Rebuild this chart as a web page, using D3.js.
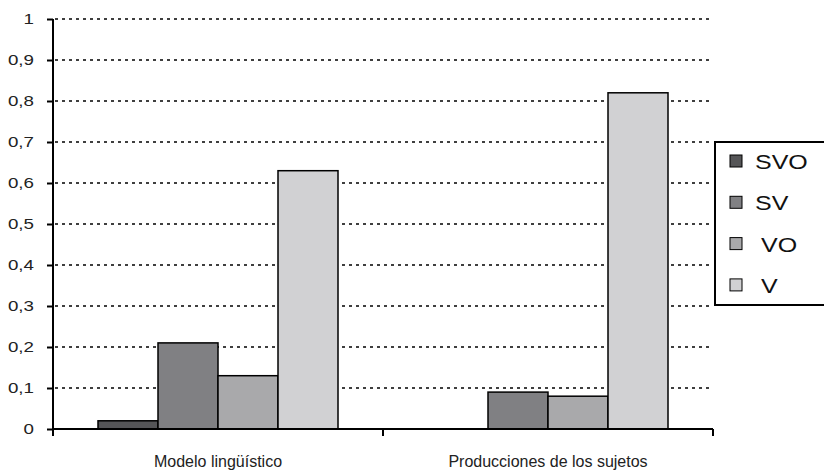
<!DOCTYPE html>
<html>
<head>
<meta charset="utf-8">
<script src="https://d3js.org/d3.v7.min.js"></script>
<style>
  body { margin: 0; background: #fff; }
  svg { font-family: "Liberation Sans", Arial, sans-serif; }
  .grid line { stroke: #000; stroke-width: 1.6px; stroke-dasharray: 3 4; }
  .bar { stroke: #000; stroke-width: 1.5px; }
</style>
</head>
<body>
<script>
// data
const categories = ["Modelo lingüístico", "Producciones de los sujetos"];
const series = ["SVO", "SV", "VO", "V"];
const seriesColors = ["#555557", "#808083", "#a9a9ab", "#d1d1d3"];
const svoValues = [0.02, 0];
const svValues = [0.21, 0.09];
const voValues = [0.13, 0.08];
const vValues = [0.63, 0.82];
const yTicks = [0, 0.1, 0.2, 0.3, 0.4, 0.5, 0.6, 0.7, 0.8, 0.9, 1];

const width = 824, height = 470;
const plotLeft = 53, plotRight = 713, plotTop = 19, plotBottom = 429;

const svg = d3.select("body").append("svg")
  .attr("width", width).attr("height", height);

const seriesValues = [svoValues, svValues, voValues, vValues];
const rows = [];
categories.forEach(function (c, ci) {
  series.forEach(function (s, si) {
    rows.push({ cat: c, ser: s, value: seriesValues[si][ci], color: seriesColors[si] });
  });
});

// scales
const x = d3.scaleBand().domain(categories).range([plotLeft, plotRight]);
const xs = d3.scaleBand().domain(series).range([45, x.bandwidth() - 45]);
const y = d3.scaleLinear().domain([0, 1]).range([plotBottom, plotTop]);

// gridlines
svg.append("g").attr("class", "grid")
  .selectAll("line")
  .data(yTicks.filter(function (d) { return d > 0; }))
  .enter().append("line")
  .attr("x1", plotLeft + 2).attr("x2", plotRight)
  .attr("y1", function (d) { return y(d); })
  .attr("y2", function (d) { return y(d); });

// bars
svg.append("g").selectAll("rect")
  .data(rows.filter(function (d) { return d.value > 0; }))
  .enter().append("rect")
  .attr("class", "bar")
  .attr("x", function (d) { return x(d.cat) + xs(d.ser); })
  .attr("width", xs.bandwidth())
  .attr("y", function (d) { return y(d.value); })
  .attr("height", function (d) { return y(0) - y(d.value); })
  .attr("fill", function (d) { return d.color; });

// y axis
const fmt = function (d) { return d === 0 || d === 1 ? String(d) : d.toFixed(1).replace(".", ","); };
const yAxis = svg.append("g")
  .attr("transform", "translate(" + plotLeft + ",0)")
  .call(d3.axisLeft(y).tickValues(yTicks).tickFormat(fmt).tickSize(6));
yAxis.select(".domain").attr("stroke-width", 2).attr("d", "M0," + plotTop + "V" + (plotBottom + 3));
yAxis.selectAll(".tick line").attr("stroke-width", 2);
// glyphs in the original are a bit wider than Arial
yAxis.selectAll("text")
  .attr("x", 0)
  .attr("transform", "translate(-19,0) scale(1.25,1)")
  .attr("font-size", 15).attr("fill", "#222")
  .attr("font-family", "Liberation Sans, Arial, sans-serif");

// x axis
const xAxis = svg.append("g")
  .attr("transform", "translate(0," + plotBottom + ")");
xAxis.append("line")
  .attr("x1", plotLeft).attr("x2", plotRight)
  .attr("stroke", "#000").attr("stroke-width", 2);
xAxis.selectAll(".sep")
  .data([plotLeft].concat(categories.map(function (c) { return x(c) + x.bandwidth(); })))
  .enter().append("line")
  .attr("x1", function (d) { return d; }).attr("x2", function (d) { return d; })
  .attr("y1", 0).attr("y2", 7)
  .attr("stroke", "#000").attr("stroke-width", 2);
xAxis.selectAll(".lab")
  .data(categories)
  .enter().append("text")
  .attr("x", function (d) { return x(d) + x.bandwidth() / 2; })
  .attr("y", 38)
  .attr("text-anchor", "middle")
  .attr("font-size", 16)
  .attr("fill", "#222")
  .text(function (d) { return d; });

// legend
const lg = svg.append("g");
lg.append("rect")
  .attr("x", 715).attr("y", 142)
  .attr("width", 120).attr("height", 163)
  .attr("fill", "#fff").attr("stroke", "#000").attr("stroke-width", 2);
const items = lg.selectAll(".item").data(series).enter().append("g")
  .attr("transform", function (d, i) { return "translate(730," + (161 + i * 41.3) + ")"; });
items.append("rect")
  .attr("x", 0).attr("y", -6).attr("width", 12).attr("height", 12)
  .attr("stroke", "#000").attr("stroke-width", 1)
  .attr("fill", function (d, i) { return seriesColors[i]; });
items.append("text")
  .attr("transform", function (d) {
    return "translate(" + (d === "SVO" || d === "SV" ? 25 : 31) + ",8) scale(1.25,1)";
  })
  .attr("font-size", 20)
  .attr("fill", "#111")
  .text(function (d) { return d; });
</script>
</body>
</html>
